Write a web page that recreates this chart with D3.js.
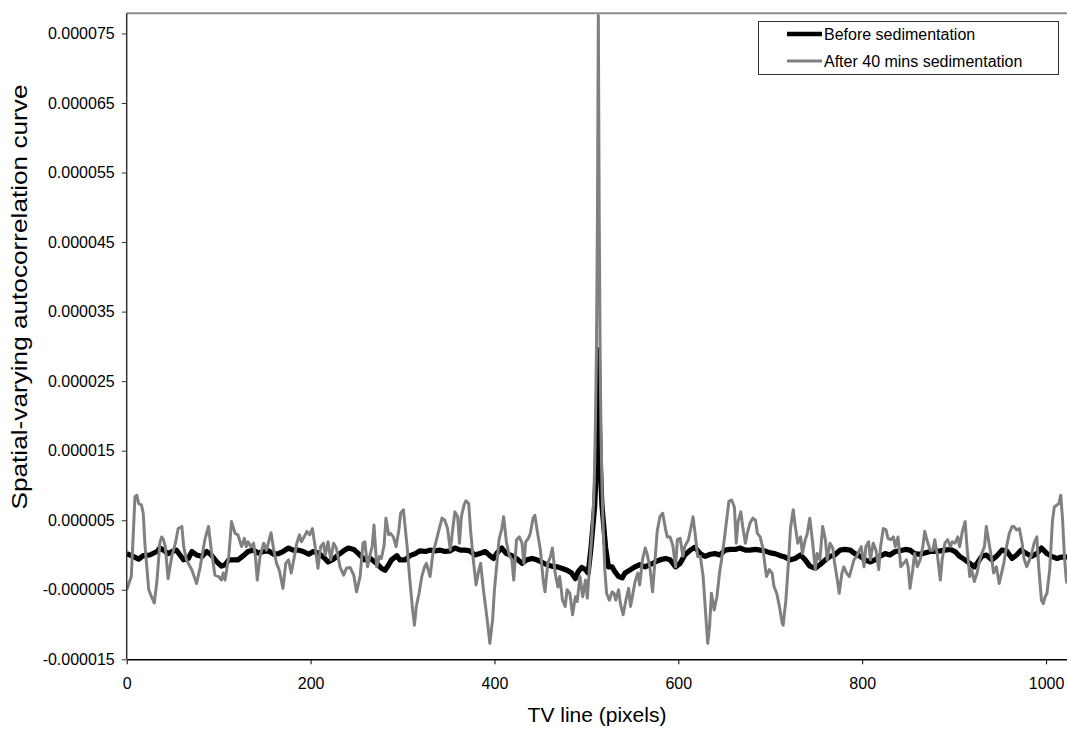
<!DOCTYPE html>
<html><head><meta charset="utf-8">
<script src="https://cdn.jsdelivr.net/npm/d3@7"></script>
<style>
html,body{margin:0;padding:0;background:#fff;}
svg{display:block;font-family:"Liberation Sans",Arial,Helvetica,sans-serif;}
</style></head>
<body><svg id="chart" width="1067" height="729"></svg>
<script>
// Values are in units of 1e-6 (converted below)
const beforeLag = [0,7,13,18,25,33,36,40,45,51,54,58,62,67,71,76,82,87,92,98,103,107,111,116,121,127,132,138,143,149,154,160,165,170,176,181,187,192,198,203,208,214,219,225,230,236,241,247,252,
259,265,272,277,281,285,288,294,297,303,308,314,319,325,330,335,341,346,352,357,363,368,373,379,384,390,395,399,404,408,413,419,424,430,435,441,446,451,457,462,468,473,479,484,488,491,495,499,502,
505,507,509,510,511,512,513,514,515,516,517,519,521,524,
528,531,535,539,542,548,553,558,564,569,575,580,586,591,597,602,607,613,618,624,629,635,640,645,651,656,662,667,673,678,684,689,694,700,705,711,716,722,727,733,738,743,749,754,760,765,
770,776,781,787,792,798,803,809,814,819,825,830,836,841,847,852,857,863,868,874,879,885,890,896,901,906,912,917,922,926,930,935,941,946,952,957,963,968,973,979,984,990,995,1001,1006,1012,1017,1023];
const beforeValues = [0.2,-0.2,-0.6,-0.1,0,0.5,1.0,0.7,0.2,0.6,0.7,0,-0.7,-0.5,0.5,0,-0.2,0.5,0,-1.0,-1.6,-1.4,-0.7,-0.7,-0.7,-0.1,0.5,0.7,0.3,0.5,0.6,0.1,0.2,0.5,1.0,0.7,0.7,0.5,0.1,0.5,0.3,-0.3,-1.0,-0.6,0,0.6,1.0,0.8,0.2,
-0.7,-0.5,-1.2,-1.9,-2.2,-1.4,-0.7,-0.1,-0.7,-0.7,-0.1,0.2,0.6,0.5,0.7,0.6,0.7,0.5,0.6,1.0,0.7,0.7,0.6,0,0.2,0.5,-0.1,-0.5,0.5,1.0,0.2,-0.1,-0.5,-1.2,-0.7,-0.5,-0.7,-1.0,-1.4,-1.6,-1.7,-1.9,-2.2,-2.6,-3.4,-2.4,-1.8,-2.1,-2.6,
1,4,7,10,14,20,29.5,20,14,10,7,4,1,-1.7,
-1.7,-2.4,-3.1,-3.3,-2.6,-2.1,-1.7,-1.4,-1.7,-1.4,-1.0,-0.7,-0.5,-0.7,-1.7,-1.2,0,0.7,1.1,0.2,-0.2,0.1,0.2,0,0.7,0.8,0.8,1.0,0.7,0.7,0.8,0.7,0.6,0.3,0.2,-0.1,-0.3,-0.7,-0.5,0,-0.7,-1.6,-1.9,-1.4,-0.7,-0.2,
0,0.7,0.8,0.7,0.2,-0.2,-0.7,-1.0,-0.7,-0.2,0.2,0,0.5,0.6,0.8,0.7,0.2,0.1,0.3,0.5,0.5,0.6,0.7,0.8,0.5,-0.2,-0.7,-1.2,-1.7,-1.0,-0.2,0,-0.7,-0.2,0.7,0.6,-0.5,0,0.7,0.2,-0.2,0.2,1.0,0.2,-0.2,-0.5,-0.3,-0.3];

const afterLag = [0,5,9,11,13,16,18,20,24,27,30,33,36,38,40,42,45,49,53,56,60,62,65,71,76,80,85,89,92,96,100,103,105,107,111,114,118,121,125,128,130,132,135,138,140,142,145,149,152,157,160,163,166,170,173,176,179,181,185,188,190,193,196,199,202,205,208,211,214,216,219,222,225,228,232,236,239,243,247,250,
254,257,259,262,265,267,269,272,275,277,280,282,285,287,290,293,296,298,301,305,308,311,313,315,318,321,324,326,330,333,337,340,343,346,349,352,355,357,360,362,364,367,369,372,374,377,380,383,385,388,391,393,395,398,400,403,405,408,410,413,416,419,421,424,427,430,432,434,437,439,442,444,447,450,453,455,458,461,463,466,469,471,474,477,479,482,485,488,490,493,496,499,501,504,
506,508,509,510,511,512,513,514,515,516,517,518,520,522,
525,528,530,532,535,537,540,543,546,548,550,553,556,558,561,564,566,569,572,575,577,580,583,586,588,591,594,597,599,602,605,607,611,614,616,618,621,624,627,629,632,634,636,639,642,645,647,650,653,655,658,661,663,665,668,670,673,675,678,681,684,686,689,692,694,696,699,702,704,707,710,713,714,717,720,722,725,727,730,733,735,738,740,743,746,749,751,754,757,760,762,765,
768,770,773,775,778,780,783,786,789,791,794,797,799,802,804,807,809,812,815,818,820,823,826,828,831,834,836,839,842,845,848,850,852,855,857,860,863,866,868,871,874,877,879,882,885,887,890,893,896,898,901,904,906,909,912,914,917,919,922,925,927,930,933,935,938,941,943,946,949,952,954,957,960,963,965,968,971,974,976,979,982,984,987,990,992,995,997,999,1001,1004,1007,1009,1012,1014,1016,1018,1020,1022,1023];
const afterValues = [-5.0,-3.1,8.4,8.6,7.4,7.2,6.0,1.2,-5.0,-6.0,-6.9,-3.6,1.7,2.6,2.2,1.2,-3.4,-0.2,1.7,3.8,4.1,1.2,-0.7,-2.2,-4.1,-1.7,2.2,4.1,0.7,-2.9,-3.1,-3.6,-2.6,-3.6,-0.2,4.8,3.1,2.9,1.2,2.4,1.2,1.9,1.2,1.7,-0.2,-3.6,-0.2,1.7,0.7,3.2,0.7,-1.2,-2.2,-4.8,-1.2,-0.7,-2.6,-1.2,1.7,2.9,1.9,2.6,3.4,2.9,3.8,1.2,-1.9,1.2,1.7,0,1.9,-0.7,1.7,1.0,-1.7,-2.9,-1.9,-1.8,-2.9,-5.3,
-3.0,1.7,1.9,-1.7,0.2,1.2,4.3,-1.7,-0.2,-0.5,1.4,5.3,2.9,3.1,2.6,1.2,3.6,6.0,6.5,1.2,-3.6,-7.9,-10.1,-7.4,-5.5,-3.1,-1.7,-1.2,-3.1,0.2,2.2,3.8,5.3,5.0,3.8,0.7,4.1,6.2,5.5,1.7,5.5,7.2,7.8,7.4,3.6,-0.7,-4.3,-2.2,-1.2,-5.0,-8.1,-10.3,-12.7,-9.3,-5.0,-0.7,2.2,3.8,5.5,1.9,0,-0.7,-3.6,2.2,2.6,1.7,-1.2,1.9,2.4,3.1,5.3,5.7,3.1,0.7,-3.6,-5.3,-1.2,-0.2,1.0,-2.6,-4.6,-3.1,-6.5,-7.4,-5.0,-5.5,-8.6,-6.0,-6.7,-3.1,-6.0,-3.6,-6.2,-0.7,
3,8,13,20,30,48,77.6,48,28,17,10,5,-2,-5.5,
-6.5,-5.3,-5.5,-6.5,-5.0,-7.0,-8.6,-6.5,-4.8,-7.4,-6.0,-3.8,-2.6,-4.3,-0.7,1.0,0.2,-1.7,-5.3,-0.2,3.4,5.5,6.0,3.8,2.6,2.6,1.4,-1.7,2.2,2.4,-0.2,1.2,2.2,4.1,5.5,3.4,-0.2,-0.2,-3.1,-7.0,-12.7,-10.3,-5.5,-7.9,-6.0,-2.4,-0.7,2.2,5.5,7.7,7.9,6.9,1.7,4.8,6.2,4.1,1.7,3.1,4.6,5.3,5.0,3.1,2.6,1.0,-1.2,-3.1,-2.1,-2.6,-4.5,-5.5,-7.4,-9.8,-10.1,-6.5,-0.7,3.8,6.5,4.3,1.7,2.6,0.2,2.2,2.9,5.3,1.9,-2.1,0.2,-0.7,4.1,2.2,-0.7,1.7,
1.0,-1.2,-3.6,-5.5,-2.6,-1.7,-2.6,-3.1,-1.7,-0.7,-0.2,0.7,1.2,-1.7,1.2,1.9,-0.7,1.7,0.7,-2.1,1.2,3.8,3.6,2.4,2.2,2.6,1.2,2.6,-1.7,-1.2,-0.7,-1.7,-4.8,-2.1,0.2,-1.7,-0.7,1.2,3.4,1.9,0.7,0.7,2.2,-0.2,-3.6,-0.7,1.7,2.2,1.2,1.9,1.7,2.6,1.2,3.4,4.8,1.2,-3.1,-2.1,-3.8,-2.6,-1.2,0.2,1.2,4.1,1.7,-0.7,-2.6,-1.7,-4.1,-2.4,-1.2,1.2,3.1,4.1,4.1,3.6,3.8,1.7,-0.5,-1.7,-0.7,0,1.7,2.6,-1.7,-6.5,-7.0,-6.0,-5.5,-2.1,5.0,6.9,7.2,7.4,8.6,5.0,-0.2,-3.6,-4.1];

const seriesNames = ["Before sedimentation", "After 40 mins sedimentation"];
const xTicks = [0, 200, 400, 600, 800, 1000];
const yTicks = [-0.000015, -0.000005, 0.000005, 0.000015, 0.000025, 0.000035, 0.000045, 0.000055, 0.000065, 0.000075];
const xTitle = "TV line (pixels)";
const yTitle = "Spatial-varying autocorrelation curve";

const toPoints = (lags, vals) => lags.map((l, i) => [l, vals[i] * 1e-6]);
const beforeData = toPoints(beforeLag, beforeValues);
const afterData = toPoints(afterLag, afterValues);

const svg = d3.select("#chart");
const L = 126.7, R = 1067.2, T = 13.3, B = 659.3;

const x = d3.scaleLinear().domain([0, 1023]).range([L, R]);
const y = d3.scaleLinear().domain([-0.000015, 0.0000779]).range([B, T]);

// top border
svg.append("line").attr("x1", L).attr("x2", R).attr("y1", T).attr("y2", T)
  .attr("stroke", "#8c8c8c").attr("stroke-width", 2);

const line = d3.line().x(d => x(d[0])).y(d => y(d[1]));

svg.append("clipPath").attr("id", "plotclip").append("rect")
  .attr("x", L).attr("y", T - 2).attr("width", R - L + 2).attr("height", B - T + 2);

const g = svg.append("g").attr("clip-path", "url(#plotclip)");
g.append("path").datum(beforeData).attr("d", line)
  .attr("fill", "none").attr("stroke", "#000").attr("stroke-width", 5.2)
  .attr("stroke-linejoin", "round");
g.append("path").datum(afterData).attr("d", line)
  .attr("fill", "none").attr("stroke", "#808080").attr("stroke-width", 3)
  .attr("stroke-linejoin", "round");

// axes
const fontFam = "Liberation Sans, Arial, sans-serif";
const xAxis = d3.axisBottom(x).tickValues(xTicks).tickSize(5).tickSizeOuter(0).tickPadding(13)
  .tickFormat(d3.format("d"));
const gx = svg.append("g").attr("transform", `translate(0,${B})`).call(xAxis);
gx.select(".domain").attr("stroke", "#000").attr("stroke-width", 1.5);
gx.selectAll(".tick line").attr("stroke", "#000");
gx.selectAll(".tick text").attr("font-size", "16px").attr("fill", "#000").attr("font-family", fontFam);

const fmt6 = d3.format(".6f");
const yAxis = d3.axisLeft(y).tickValues(yTicks).tickSize(5).tickSizeOuter(0).tickPadding(7)
  .tickFormat(d => fmt6(d).replace("\u2212", "-"));
const gy = svg.append("g").attr("transform", `translate(${L},0)`).call(yAxis);
gy.select(".domain").attr("stroke", "#333").attr("stroke-width", 1.5)
  .attr("d", `M0,${T}V${B}`);
gy.selectAll(".tick line").attr("stroke", "#333");
gy.selectAll(".tick text").attr("font-size", "16px").attr("fill", "#000").attr("font-family", fontFam);

// titles
svg.append("text").attr("x", 597).attr("y", 722).attr("text-anchor", "middle")
  .attr("font-size", "21px").attr("fill", "#000").text(xTitle);
svg.append("text").attr("transform", "translate(27,297) rotate(-90)")
  .attr("text-anchor", "middle").attr("font-size", "22px").attr("fill", "#000")
  .attr("textLength", 425).attr("lengthAdjust", "spacingAndGlyphs").text(yTitle);

// legend
const lg = svg.append("g");
lg.append("rect").attr("x", 758.5).attr("y", 21.5).attr("width", 300).attr("height", 53)
  .attr("fill", "#fff").attr("stroke", "#333").attr("stroke-width", 1);
const legendItems = [
  {name: seriesNames[0], color: "#000", w: 4.5, yy: 34},
  {name: seriesNames[1], color: "#808080", w: 3, yy: 61}
];
legendItems.forEach(it => {
  lg.append("line").attr("x1", 787).attr("x2", 822).attr("y1", it.yy).attr("y2", it.yy)
    .attr("stroke", it.color).attr("stroke-width", it.w);
  lg.append("text").attr("x", 824).attr("y", it.yy + 6).attr("font-size", "16px")
    .attr("fill", "#000").text(it.name);
});
</script></body></html>
